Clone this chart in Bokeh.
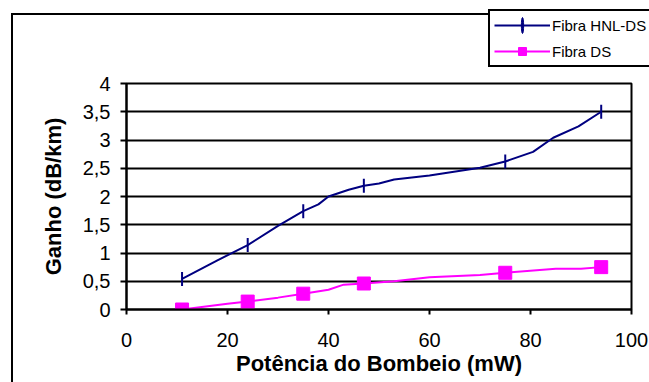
import numpy as np
from bokeh.plotting import figure
from bokeh.layouts import column
from bokeh.models import Legend, LegendItem, FixedTicker, Range1d
from bokeh.embed import file_html
from bokeh.resources import INLINE

# HNL-DS fibre: line vertices and marked measurement points
hnl_x = [11, 18, 24, 30, 35, 38, 40, 44, 47, 50, 53, 60, 70, 75, 80.5, 84.5, 89.5, 94]
hnl_y = [0.54, 0.87, 1.14, 1.48, 1.74, 1.86, 2.0, 2.12, 2.19, 2.23, 2.30, 2.37, 2.51, 2.62, 2.79, 3.04, 3.24, 3.50]
hnl_mx = [11, 24, 35, 47, 75, 94]
hnl_my = [0.54, 1.14, 1.74, 2.19, 2.62, 3.50]

# DS fibre
ds_x = [11, 20, 24, 30, 35, 40, 43, 47, 53, 60, 70, 75, 85, 90, 94]
ds_y = [0.0, 0.10, 0.14, 0.21, 0.28, 0.35, 0.44, 0.46, 0.50, 0.57, 0.61, 0.65, 0.72, 0.72, 0.75]
ds_mx = [11, 24, 35, 47, 75, 94]
ds_my = [0.0, 0.14, 0.28, 0.46, 0.65, 0.75]

y_ticks = [0, 0.5, 1, 1.5, 2, 2.5, 3, 3.5, 4]
y_tick_labels = ["0", "0,5", "1", "1,5", "2", "2,5", "3", "3,5", "4"]
x_ticks = [0, 20, 40, 60, 80, 100]
series_names = ["Fibra HNL-DS", "Fibra DS"]

FONT = "Liberation Sans"
NAVY = "#000080"
MAGENTA = "#FF00FF"

# ---------- top strip: chart-area border (top-left corner) and legend ----------
top = figure(output_backend="svg", toolbar_location=None,
             frame_width=649, frame_height=70,
             min_border_left=0, min_border_right=0, min_border_top=0, min_border_bottom=0,
             x_axis_location=None, y_axis_location=None,
             x_range=Range1d(-20, -10), y_range=Range1d(0, 4),
             styles={"box-shadow": "inset 11px 13px 0px 0px white, inset 13px 15px 0px 0px black"})
top.outline_line_color = None
top.background_fill_color = None
top.border_fill_color = None
top.grid.visible = False

# legend renderers (kept outside the strip's visible range; only their legend glyphs show)
tl1 = top.line(hnl_x, hnl_y, line_color=NAVY, line_width=2)
tm1 = top.ellipse(hnl_mx, hnl_my, width=2, height=14, width_units="screen",
                  height_units="screen", fill_color=NAVY, line_color=NAVY)
tl2 = top.line(ds_x, ds_y, line_color=MAGENTA, line_width=2)
tm2 = top.scatter(ds_mx, ds_my, marker="square", size=13,
                  fill_color=MAGENTA, line_color=MAGENTA)

legend = Legend(items=[LegendItem(label=series_names[0], renderers=[tl1, tm1]),
                       LegendItem(label=series_names[1], renderers=[tl2, tm2])],
                location=(488, 3))
legend.border_line_color = "black"
legend.border_line_width = 2
legend.border_line_alpha = 1
legend.background_fill_color = "white"
legend.background_fill_alpha = 1
legend.label_text_font = FONT
legend.label_text_font_size = "15px"
legend.label_text_color = "black"
legend.label_standoff = 2
legend.glyph_width = 56
legend.glyph_height = 20
legend.spacing = 6
legend.padding = 4
legend.margin = 0
top.add_layout(legend, "center")

# ---------- main chart ----------
p = figure(output_backend="svg", toolbar_location=None,
           x_range=Range1d(0, 100), y_range=Range1d(0, 4),
           frame_width=505, frame_height=226,
           min_border_left=126, min_border_right=18, min_border_top=13, min_border_bottom=73,
           styles={"box-shadow": "inset 11px 0px 0px 0px white, inset 13px 0px 0px 0px black"})
p.background_fill_color = "white"
p.border_fill_color = None
p.outline_line_color = "black"
p.outline_line_width = 2

p.xgrid.visible = False
p.ygrid.grid_line_color = "black"
p.ygrid.grid_line_width = 2
p.ygrid.ticker = FixedTicker(ticks=y_ticks)

p.yaxis.ticker = FixedTicker(ticks=y_ticks)
p.yaxis.major_label_overrides = {t: l for t, l in zip(y_ticks, y_tick_labels)}
p.xaxis.ticker = FixedTicker(ticks=x_ticks)

for ax in (p.xaxis, p.yaxis):
    ax.axis_line_color = "black"
    ax.axis_line_width = 2
    ax.major_tick_line_color = "black"
    ax.major_tick_line_width = 2
    ax.major_tick_in = 0
    ax.minor_tick_line_color = None
    ax.major_label_text_font = FONT
    ax.major_label_text_font_size = "20px"
    ax.major_label_text_color = "black"
    ax.axis_label_text_font = FONT
    ax.axis_label_text_font_size = "22px"
    ax.axis_label_text_font_style = "bold"
    ax.axis_label_text_color = "black"

p.xaxis.major_tick_out = 5
p.yaxis.major_tick_out = 6
p.xaxis.major_label_standoff = 18
p.yaxis.major_label_standoff = 10
p.xaxis.axis_label = "Potência do Bombeio (mW)"
p.yaxis.axis_label = "Ganho (dB/km)"
p.xaxis.axis_label_standoff = 1
p.yaxis.axis_label_standoff = 14

p.line(hnl_x, hnl_y, line_color=NAVY, line_width=2)
p.scatter(hnl_mx, hnl_my, marker="dash", angle=np.pi / 2, size=14,
          line_color=NAVY, line_width=2)
p.line(ds_x, ds_y, line_color=MAGENTA, line_width=2)
p.scatter(ds_mx, ds_my, marker="square", size=13,
          fill_color=MAGENTA, line_color=MAGENTA)

layout = column(top, p, spacing=0)
open("out.html", "w").write(file_html(layout, INLINE))
